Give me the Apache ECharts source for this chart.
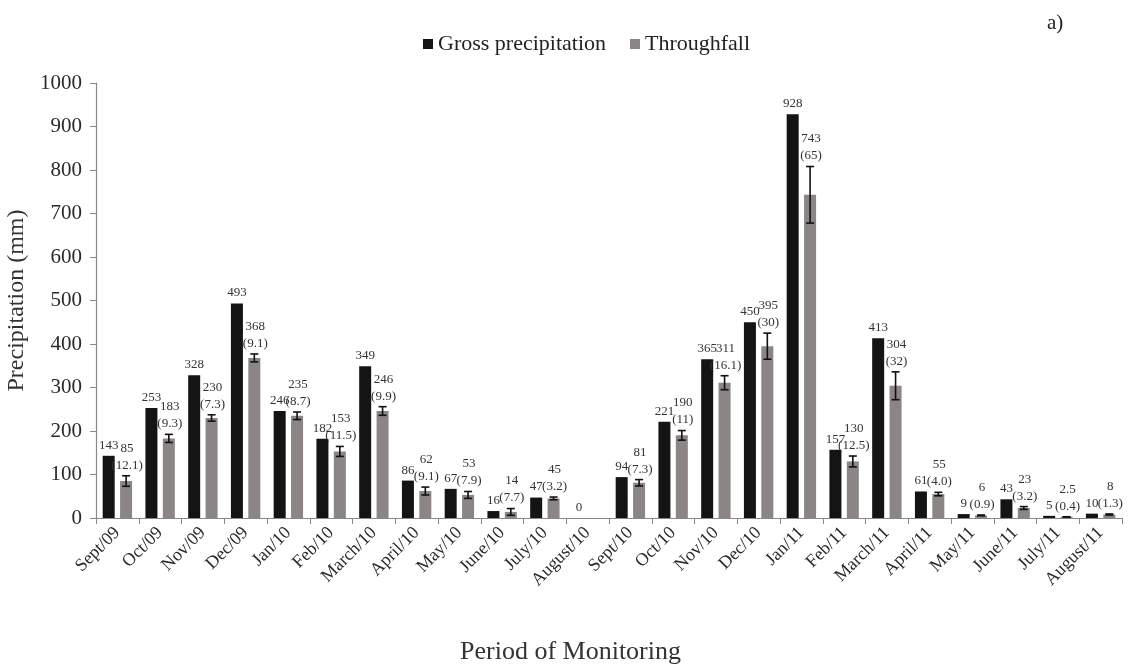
<!DOCTYPE html>
<html>
<head>
<meta charset="utf-8">
<script src="https://cdn.jsdelivr.net/npm/echarts@6/dist/echarts.min.js"></script>
<style>
  html, body { margin: 0; padding: 0; background: #fff; }
  #chart { width: 1135px; height: 670px; }
</style>
</head>
<body>
<div id="chart"></div>
<script>
// Monthly gross precipitation and throughfall (mm), with standard error of throughfall
const months = ['Sept/09', 'Oct/09', 'Nov/09', 'Dec/09', 'Jan/10', 'Feb/10', 'March/10', 'April/10',
  'May/10', 'June/10', 'July/10', 'August/10', 'Sept/10', 'Oct/10', 'Nov/10', 'Dec/10',
  'Jan/11', 'Feb/11', 'March/11', 'April/11', 'May/11', 'June/11', 'July/11', 'August/11'];
const grossPrecipitation = [143, 253, 328, 493, 246, 182, 349, 86, 67, 16, 47, 0, 94, 221, 365, 450, 928, 157, 413, 61, 9, 43, 5, 10];
const throughfall = [85, 183, 230, 368, 235, 153, 246, 62, 53, 14, 45, 0, 81, 190, 311, 395, 743, 130, 304, 55, 6, 23, 2.5, 8];
const throughfallSE = ['12.1', '9.3', '7.3', '9.1', '8.7', '11.5', '9.9', '9.1', '7.9', '7.7', '3.2', null, '7.3', '11', '16.1', '30', '65', '12.5', '32', '4.0', '0.9', '3.2', '0.4', '1.3'];
const yTicks = [0, 100, 200, 300, 400, 500, 600, 700, 800, 900, 1000];

const SERIF = '"Liberation Serif", "DejaVu Serif", serif';
const BAR_W = 12;
const BAR_GAP = 0.45;                               // gap between the pair, as a fraction of bar width
const HALF_SHIFT = (BAR_W + BAR_W * BAR_GAP) / 2;   // category centre -> throughfall bar centre

const chart = echarts.init(document.getElementById('chart'), null, { renderer: 'canvas' });

// whiskers and two-line labels on the throughfall bars
function renderErrorBar(params, api) {
  const i = params.dataIndex;
  const v = throughfall[i];
  const seText = throughfallSE[i];
  if (seText === null) return null;
  const se = Number(seText);
  const top = api.coord([i, v + se]);
  const low = api.coord([i, Math.max(v - se, 0)]);
  const x = top[0] + HALF_SHIFT;
  const cap = 4;
  const stroke = { stroke: '#111', lineWidth: 1.6 };
  return {
    type: 'group',
    children: [
      { type: 'line', shape: { x1: x, y1: top[1], x2: x, y2: low[1] }, style: stroke },
      { type: 'line', shape: { x1: x - cap, y1: top[1], x2: x + cap, y2: top[1] }, style: stroke },
      { type: 'line', shape: { x1: x - cap, y1: low[1], x2: x + cap, y2: low[1] }, style: stroke },
      {
        type: 'text',
        style: {
          text: v + '\n(' + seText + ')',
          x: x + 1,
          y: top[1] - 2,
          align: 'center',
          verticalAlign: 'bottom',
          fontSize: 13,
          lineHeight: 17,
          fontFamily: SERIF,
          fill: '#333'
        }
      }
    ]
  };
}

chart.setOption({
  animation: false,
  backgroundColor: '#fff',
  grid: { left: 96, right: 13, top: 83, bottom: 152, containLabel: false, outerBoundsMode: 'none' },
  legend: {
    data: ['Gross precipitation', 'Throughfall'],
    left: 418,
    top: 28,
    icon: 'rect',
    itemWidth: 10,
    itemHeight: 10,
    itemGap: 24,
    textStyle: { fontFamily: SERIF, fontSize: 22, color: '#222' }
  },
  graphic: [
    {
      type: 'text', left: 1047, top: 13,
      style: { text: 'a)', fontFamily: SERIF, fontSize: 21, fill: '#222' }
    },
    {
      type: 'text', left: 460, top: 639,
      style: { text: 'Period of Monitoring', fontFamily: SERIF, fontSize: 26, fill: '#333' }
    }
  ],
  xAxis: {
    type: 'category',
    data: months,
    axisLine: { lineStyle: { color: '#888', width: 1.2 } },
    axisTick: { show: true, length: 6, lineStyle: { color: '#888' } },
    axisLabel: {
      rotate: 45,
      margin: 12,
      interval: 0,
      fontFamily: SERIF,
      fontSize: 18,
      color: '#2a2a2a'
    }
  },
  yAxis: {
    type: 'value',
    min: yTicks[0],
    max: yTicks[yTicks.length - 1],
    interval: yTicks[1] - yTicks[0],
    name: 'Precipitation (mm)',
    nameLocation: 'middle',
    nameGap: 56,
    nameTextStyle: { fontFamily: SERIF, fontSize: 24, color: '#333' },
    axisLine: { show: true, lineStyle: { color: '#888', width: 1.2 } },
    axisTick: { show: true, length: 6, lineStyle: { color: '#888' } },
    axisLabel: { margin: 14, fontFamily: SERIF, fontSize: 21, color: '#2a2a2a', formatter: v => String(v) },
    splitLine: { show: false }
  },
  series: [
    {
      name: 'Gross precipitation',
      type: 'bar',
      data: grossPrecipitation,
      barWidth: BAR_W,
      barGap: (BAR_GAP * 100) + '%',
      itemStyle: { color: '#141414' },
      label: {
        show: true,
        position: 'top',
        distance: 4,
        fontFamily: SERIF,
        fontSize: 13,
        color: '#333'
      }
    },
    {
      name: 'Throughfall',
      type: 'bar',
      data: throughfall,
      barWidth: BAR_W,
      barGap: (BAR_GAP * 100) + '%',
      itemStyle: { color: '#8b8585' }
    },
    {
      name: 'Throughfall SE',
      type: 'custom',
      renderItem: renderErrorBar,
      data: throughfall.map((v, i) => [i, v + (throughfallSE[i] === null ? 0 : Number(throughfallSE[i]))]),
      encode: { x: 0, y: 1 },
      z: 5,
      silent: true
    }
  ]
});
</script>
</body>
</html>
